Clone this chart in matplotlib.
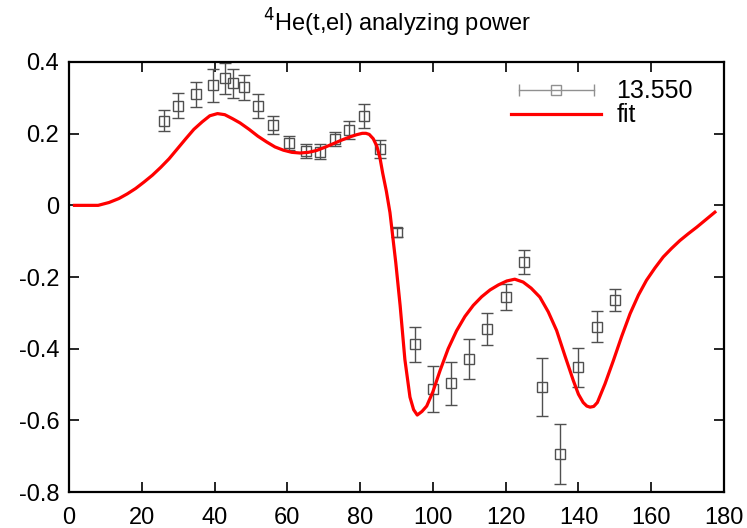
import matplotlib
matplotlib.use('Agg')
import matplotlib.pyplot as plt
from matplotlib.lines import Line2D
from matplotlib.legend_handler import HandlerLine2D, HandlerTuple

plt.rcParams['font.family'] = ['Liberation Sans', 'DejaVu Sans']

# measured analyzing power, 13.550
theta = [26, 30, 35, 39.5, 43, 45, 48, 52, 56, 60.5, 65, 69, 73, 77, 81, 85.5, 90,
         95, 100, 105, 110, 115, 120, 125, 130, 135, 140, 145, 150]
ay = [0.236, 0.278, 0.31, 0.335, 0.354, 0.34, 0.33, 0.277, 0.223, 0.174, 0.152, 0.15,
      0.185, 0.21, 0.249, 0.158, -0.075, -0.388, -0.512, -0.496, -0.428, -0.345,
      -0.256, -0.158, -0.507, -0.694, -0.452, -0.338, -0.263]
ay_err = [0.029, 0.035, 0.035, 0.046, 0.044, 0.04, 0.035, 0.034, 0.025, 0.02, 0.02,
          0.02, 0.02, 0.025, 0.034, 0.025, 0.012, 0.05, 0.064, 0.06, 0.056, 0.045,
          0.036, 0.033, 0.08, 0.084, 0.055, 0.042, 0.031]

# fit curve
fit_theta = [1.5, 5, 8, 11, 13.7, 16, 18.3, 20.6, 22.9, 25.2, 27.5, 29.8, 32.1, 34.3,
             36.6, 38.7, 40.8, 42.8, 44.9, 47, 49.5, 51.9, 54.3, 56.6, 58.9, 61.2,
             63.5, 65.8, 68, 70.3, 72.6, 74.9, 77.2, 79, 80.6, 81.6, 82.5, 83.6, 84.6,
             85.5, 86.2, 87.2, 88.2, 89, 89.8, 91, 92.3, 93.7, 94.7, 95.7, 97, 98.3,
             100, 102, 104.2, 106.5, 108.8, 111.1, 113.4, 115.7, 118, 120.3, 122.5,
             124.8, 127, 129.4, 131.7, 134, 136.3, 138.6, 140, 141.3, 142.3, 143.2,
             144.2, 145.2, 147.3, 149.6, 151.9, 154.2, 156.5, 158.7, 161, 163.3,
             165.6, 167.9, 170.2, 172.5, 175, 177.5]
fit_ay = [0.0, 0.0, 0.0, 0.008, 0.019, 0.032, 0.047, 0.065, 0.084, 0.106, 0.13, 0.158,
          0.186, 0.212, 0.233, 0.25, 0.256, 0.253, 0.242, 0.23, 0.212, 0.193, 0.177,
          0.163, 0.154, 0.148, 0.146, 0.148, 0.153, 0.162, 0.172, 0.182, 0.191,
          0.197, 0.201, 0.201, 0.198, 0.186, 0.165, 0.13, 0.09, 0.04, -0.02, -0.09,
          -0.16, -0.28, -0.43, -0.535, -0.57, -0.585, -0.575, -0.56, -0.52, -0.46,
          -0.4, -0.35, -0.31, -0.279, -0.255, -0.236, -0.222, -0.211, -0.206, -0.214,
          -0.231, -0.256, -0.297, -0.349, -0.42, -0.489, -0.527, -0.55, -0.56,
          -0.563, -0.561, -0.55, -0.498, -0.433, -0.365, -0.302, -0.25, -0.209,
          -0.175, -0.144, -0.12, -0.098, -0.079, -0.061, -0.04, -0.019]

gray = '#505050'

fig = plt.figure(figsize=(7.47, 5.28), dpi=100)
ax = fig.add_axes([0.0924, 0.068, 0.8768, 0.8146])

ax.errorbar(theta, ay, yerr=ay_err, fmt='s', mfc='none', mec=gray, ms=7,
            mew=1.0, ecolor=gray, elinewidth=1.0, capsize=4, capthick=1.0,
            zorder=2)
fit_line, = ax.plot(fit_theta, fit_ay, color='red', lw=2.3, zorder=3)

ax.set_xlim(0, 180)
ax.set_ylim(-0.8, 0.4)
ax.set_xticks(range(0, 181, 20))
ax.set_yticks([-0.8, -0.6, -0.4, -0.2, 0, 0.2, 0.4])
ax.set_yticklabels(['-0.8', '-0.6', '-0.4', '-0.2', '0', '0.2', '0.4'])
ax.tick_params(direction='in', length=7, width=1.2, top=True, right=True,
               labelsize=17)
ax.tick_params(axis='y', pad=7)
ax.tick_params(axis='x', pad=10.5)
for s in ax.spines.values():
    s.set_linewidth(1.6)

ax.set_title('$^4$He(t,el) analyzing power', fontsize=17, pad=22)

# horizontal error-bar style key for the data
bar_key = Line2D([], [], color='#909090', lw=1.0, marker='|', ms=9, mew=1.0)
box_key = Line2D([], [], ls='none', marker='s', ms=7, mfc='none', mec='#909090',
                 mew=1.0)
ax.legend([(bar_key, box_key), fit_line], ['13.550', 'fit'],
          handler_map={bar_key: HandlerLine2D(numpoints=2),
                       box_key: HandlerLine2D(numpoints=1),
                       tuple: HandlerTuple(ndivide=1)},
          loc='upper right', bbox_to_anchor=(0.979, 1.0), frameon=False,
          fontsize=18, handlelength=3.6, borderaxespad=0.3, handletextpad=0.6,
          labelspacing=0.0)

plt.savefig('out.png', dpi=100)
